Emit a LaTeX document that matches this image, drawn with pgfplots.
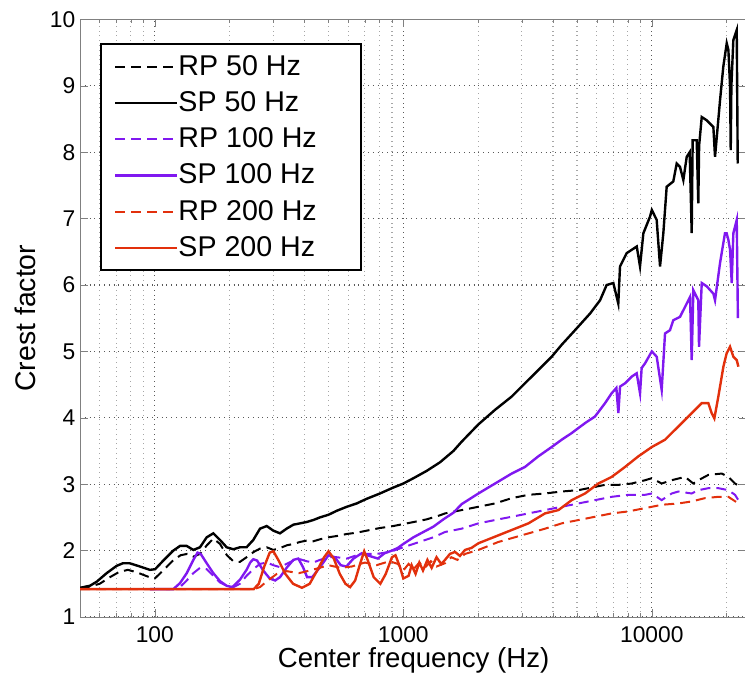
\documentclass[border=0pt]{standalone}
\usepackage{fontspec}
\setmainfont{Liberation Sans}
\usepackage{pgfplots}
\pgfplotsset{compat=1.18}

\definecolor{mpurple}{RGB}{128,24,240}
\definecolor{mred}{RGB}{226,48,12}

\begin{document}
\begin{tikzpicture}
\begin{axis}[
    at={(0,0)}, anchor=south west,
    scale only axis,
    width=333.6pt, height=298.8pt,
    xmode=log,
    xmin=50, xmax=24200,
    ymin=1, ymax=10,
    xtick={100,1000,10000},
    xticklabels={100,1000,10000},
    minor xtick={60,70,80,90,200,300,400,500,600,700,800,900,2000,3000,4000,5000,6000,7000,8000,9000,20000},
    ytick={1,2,...,10},
    /pgf/number format/assume math mode=true,
    tick label style={font=\fontsize{11.4}{13}\selectfont},
    xticklabel style={yshift=-1.2pt},
    yticklabel style={xshift=1.2pt},
    tick align=inside,
    tick pos=both,
    major tick length=4pt,
    minor tick length=2pt,
    axis line style={black!50},
    grid=both,
    major grid style={dotted, black!65, line width=0.6pt},
    minor grid style={dotted, black!35, line width=0.6pt},
    xlabel={Center frequency (Hz)},
    ylabel={Crest factor},
    every axis x label/.style={at={(axis description cs:0.5,-0.0853)}, anchor=base,
        font=\fontsize{13.8}{16}\selectfont},
    every axis y label/.style={at={(axis description cs:-0.0674,0.5)}, anchor=base, rotate=90,
        font=\fontsize{14.2}{17}\selectfont},
    legend style={at={(0.0301,0.9599)}, anchor=north west, draw=black, line width=1pt,
        inner xsep=6.5pt, inner ysep=2pt, row sep=0pt, column sep=0pt,
        font=\fontsize{14.3}{17}\selectfont,
        nodes={inner xsep=0pt, inner ysep=3.33pt}},
    legend cell align=left,
    legend image code/.code={\draw[#1] (0pt,0pt) -- (31pt,0pt);},
]

% RP 50 Hz
\addplot[black, line width=1pt, dash pattern=on 5pt off 3pt] coordinates {
(50,1.43) (55,1.46) (60,1.5) (66,1.6) (72,1.68) (78,1.71) (85,1.67) (95,1.6) (100,1.58)
(108,1.7) (119,1.86) (127,1.93) (135,1.95) (143,1.91) (152,1.95) (162,2.08) (172,2.18)
(183,2.1) (195,1.93) (207,1.84) (220,1.83) (234,1.9) (250,1.98) (265,2.03) (282,2.05)
(300,2.01) (320,2.04) (340,2.08) (361,2.1) (384,2.13) (408,2.15) (434,2.14) (462,2.17)
(500,2.2) (540,2.22) (592,2.25) (650,2.27) (712,2.3) (805,2.34) (912,2.37) (1000,2.4)
(1100,2.43) (1240,2.47) (1400,2.53) (1472,2.56) (1717,2.61) (2004,2.66) (2339,2.71)
(2730,2.79) (3186,2.84) (3717,2.86) (4338,2.89) (5062,2.91) (5907,2.96) (6480,2.99)
(7335,2.99) (8299,3.01) (9389,3.06) (10000,3.09) (10957,3.01) (12020,3.06) (13605,3.11)
(14694,3.01) (15390,3.06) (16887,3.14) (19100,3.16) (20324,3.11) (21615,3.01) (22300,2.98)
};
\addlegendentry{\makebox[85pt][l]{RP 50 Hz}}

% SP 50 Hz
\addplot[black, line width=1.2pt] coordinates {
(50,1.44) (54.8,1.47) (58.3,1.53) (64,1.66) (70.2,1.77) (74.5,1.81) (79.1,1.81) (87.2,1.76)
(95.6,1.71) (100.3,1.72) (108.2,1.85) (118.7,2.0) (126.3,2.07) (134.4,2.07) (142.9,2.01)
(152,2.05) (161.7,2.2) (172,2.26) (183,2.16) (194.6,2.05) (207,2.02) (220,2.05) (234,2.05)
(249,2.16) (265,2.33) (282,2.37) (300,2.3) (319,2.26) (339,2.33) (361,2.39) (384,2.41)
(408,2.43) (434,2.46) (462,2.5) (500,2.54) (540,2.6) (592,2.66) (649,2.71) (712,2.78)
(805,2.86) (912,2.95) (1000,3.01) (1098,3.09) (1241,3.2) (1405,3.33) (1590,3.5) (1717,3.64)
(2004,3.9) (2339,4.12) (2730,4.32) (3088,4.52) (3494,4.72) (3954,4.92) (4338,5.1) (4909,5.32)
(5640,5.57) (6190,5.77) (6580,6.0) (7000,6.03) (7330,5.72) (7447,6.28) (7924,6.48) (8696,6.58)
(8963,6.28) (9246,6.78) (9834,7.03) (10000,7.13) (10460,6.98) (10790,6.28) (11125,6.78)
(11475,7.48) (12200,7.56) (12593,7.83) (12980,7.78) (13390,7.58) (13815,7.93) (14200,8.0)
(14470,6.78) (14600,8.18) (15157,8.18) (15380,7.23) (15500,8.1) (15880,8.53) (16634,8.48)
(17685,8.38) (17960,7.93) (18814,8.78) (19395,9.29) (20016,9.64) (20326,9.54) (20644,8.99)
(20772,8.03) (20900,9.0) (21282,9.69) (21960,9.84) (22163,7.83)
};
\addlegendentry{\makebox[85pt][l]{SP 50 Hz}}

% RP 100 Hz
\addplot[mpurple, line width=1pt, dash pattern=on 5pt off 3pt] coordinates {
(95.6,1.42) (118.7,1.42) (126.3,1.45) (134.4,1.55) (142.9,1.66) (152,1.74) (161.7,1.72)
(172,1.62) (183,1.52) (194.6,1.47) (207,1.45) (220,1.5) (234,1.62) (249,1.72) (265,1.8)
(282,1.82) (300,1.78) (319,1.75) (339,1.8) (361,1.85) (384,1.87) (408,1.84) (434,1.82)
(462,1.86) (500,1.9) (540,1.9) (592,1.88) (650,1.93) (712,1.95) (781,1.95) (884,1.98)
(1000,2.05) (1098,2.1) (1204,2.15) (1321,2.2) (1472,2.28) (1717,2.33) (2004,2.41)
(2339,2.46) (2730,2.51) (3186,2.56) (3717,2.61) (4338,2.66) (5062,2.71) (5907,2.76)
(6895,2.81) (8045,2.84) (9389,2.84) (10000,2.86) (10957,2.76) (12020,2.86) (12790,2.89)
(14470,2.86) (15390,2.91) (16887,2.94) (18522,2.94) (20324,2.91) (21615,2.84) (22300,2.76)
};
\addlegendentry{\makebox[85pt][l]{RP 100 Hz}}

% SP 100 Hz
\addplot[mpurple, line width=1.2pt] coordinates {
(95.6,1.42) (118.7,1.42) (126.3,1.51) (134.4,1.66) (142.9,1.86) (148.6,1.97) (153,1.95)
(161.7,1.81) (172,1.66) (183,1.54) (194.6,1.47) (205,1.45) (220,1.56) (234,1.71) (242,1.82)
(249,1.87) (258,1.85) (273,1.7) (290,1.58) (305,1.55) (319,1.6) (339,1.74) (361,1.86)
(378,1.88) (395,1.75) (410,1.6) (430,1.6) (462,1.75) (500,1.93) (530,1.9) (560,1.78)
(590,1.76) (630,1.88) (680,1.96) (730,1.92) (790,1.88) (840,1.96) (900,2.0) (950,2.04)
(1000,2.1) (1098,2.2) (1204,2.28) (1321,2.36) (1449,2.47) (1590,2.57) (1717,2.7) (2004,2.86)
(2339,3.01) (2730,3.16) (3088,3.26) (3494,3.42) (3954,3.56) (4338,3.67) (4759,3.77)
(5385,3.92) (5907,4.02) (6480,4.22) (6895,4.37) (7200,4.45) (7335,4.07) (7450,4.47)
(7803,4.52) (8299,4.62) (8690,4.67) (8965,4.37) (9100,4.75) (9389,4.82) (10000,5.0)
(10462,4.92) (10957,4.42) (11300,5.27) (11835,5.32) (12200,5.47) (12980,5.52) (13815,5.72)
(14246,5.82) (14470,4.87) (14690,5.92) (15380,5.77) (15485,5.07) (15880,6.03) (16634,5.98)
(17685,5.87) (17960,5.77) (18814,6.33) (19695,6.78) (20000,6.78) (20326,6.68) (20644,6.53)
(20965,6.03) (21282,6.78) (21960,6.98) (22200,5.5)
};
\addlegendentry{\makebox[85pt][l]{SP 100 Hz}}

% RP 200 Hz
\addplot[mred, line width=1pt, dash pattern=on 5pt off 3pt] coordinates {
(50,1.42) (250,1.42) (265,1.45) (285,1.55) (310,1.65) (340,1.69) (380,1.66) (420,1.7)
(460,1.74) (500,1.78) (560,1.74) (620,1.76) (700,1.82) (780,1.78) (880,1.84) (950,1.8)
(1000,1.7) (1050,1.8) (1100,1.72) (1160,1.82) (1220,1.74) (1290,1.84) (1360,1.76)
(1472,1.81) (1560,1.9) (1650,1.86) (1772,1.95) (2004,2.01) (2413,2.13) (2995,2.23)
(3717,2.33) (4338,2.41) (5062,2.46) (5907,2.51) (6895,2.56) (8045,2.59) (9389,2.64)
(10000,2.66) (10957,2.69) (12790,2.71) (14470,2.74) (16375,2.79) (18522,2.81) (20324,2.81)
(22300,2.71)
};
\addlegendentry{\makebox[85pt][l]{RP 200 Hz}}

% SP 200 Hz
\addplot[mred, line width=1.2pt] coordinates {
(50,1.42) (250,1.42) (262,1.5) (275,1.75) (290,1.97) (300,1.99) (315,1.85) (335,1.65)
(360,1.5) (391,1.44) (420,1.5) (450,1.7) (480,1.9) (500,1.99) (525,1.88) (555,1.65)
(585,1.5) (611,1.45) (640,1.55) (670,1.8) (696,1.99) (720,1.85) (760,1.6) (808,1.5)
(850,1.65) (900,1.9) (930,1.93) (970,1.75) (1000,1.58) (1050,1.62) (1080,1.78) (1120,1.65)
(1160,1.82) (1200,1.7) (1250,1.86) (1300,1.74) (1360,1.9) (1420,1.8) (1472,1.86) (1540,1.95)
(1614,1.98) (1690,1.92) (1772,2.01) (1880,2.04) (2004,2.11) (2339,2.21) (2730,2.31)
(3186,2.41) (3717,2.56) (4207,2.61) (4759,2.76) (5385,2.86) (6092,3.01) (6895,3.11)
(7803,3.26) (8828,3.42) (10000,3.56) (11300,3.67) (12790,3.87) (14470,4.07) (15875,4.22)
(16887,4.22) (17414,4.07) (17848,3.99) (18522,4.32) (19409,4.77) (20000,4.97) (20636,5.07)
(21283,4.92) (21957,4.87) (22300,4.77)
};
\addlegendentry{\makebox[85pt][l]{SP 200 Hz}}

\end{axis}
\pgfresetboundingbox
\path[use as bounding box] (-40pt,-33.5pt) rectangle (332.5pt,308.5pt);
\end{tikzpicture}
\end{document}
